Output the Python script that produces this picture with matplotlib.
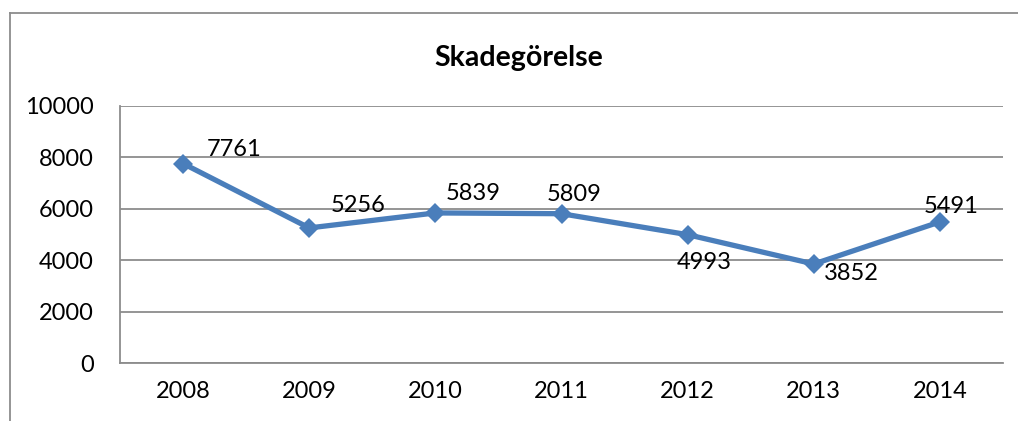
import matplotlib.pyplot as plt
from matplotlib.lines import Line2D

plt.rcParams['font.family'] = ['Lato', 'DejaVu Sans']

# --- data
years = ["2008", "2009", "2010", "2011", "2012", "2013", "2014"]
values = [7761, 5256, 5839, 5809, 4993, 3852, 5491]

# label placement (offset points from each marker)
label_offsets = [(37, 10), (35, 16), (27, 14), (9, 14), (12, -20), (27, -7), (8, 11)]

line_color = "#4A7EBB"
grid_color = "#8C8C8C"

W, H = 1018, 421
fig = plt.figure(figsize=(W / 100, H / 100), dpi=100)
fig.patch.set_facecolor("white")

# chart frame (left and top edges only)
fig.add_artist(Line2D([10 / W, 10 / W], [0, 1 - 13 / H], transform=fig.transFigure,
                      color=grid_color, lw=1.3))
fig.add_artist(Line2D([10 / W, 1], [1 - 13 / H, 1 - 13 / H], transform=fig.transFigure,
                      color=grid_color, lw=1.3))

ax = fig.add_axes([120 / W, 1 - 363 / H, (1003 - 120) / W, (363 - 106) / H])

x = list(range(len(years)))
ax.plot(x, values, color=line_color, lw=3.8, marker="D", markersize=10,
        markeredgewidth=0, zorder=3, solid_joinstyle="miter")

for xi, v, (dx, dy) in zip(x, values, label_offsets):
    ax.annotate(f"{v}", xy=(xi, v), xytext=(dx, dy), textcoords="offset points",
                ha="center", va="center", fontsize=17, color="black", zorder=4)

ax.set_xlim(-0.5, len(years) - 0.5)
ax.set_ylim(0, 10000)
ax.set_yticks(range(0, 10001, 2000))
ax.set_xticks(x)
ax.set_xticklabels(years)

ax.grid(axis="y", color=grid_color, lw=1.3, zorder=1)
ax.set_axisbelow(True)
for side in ["top", "right"]:
    ax.spines[side].set_visible(False)
for side in ["left", "bottom"]:
    ax.spines[side].set_color(grid_color)
    ax.spines[side].set_linewidth(1.3)

ax.tick_params(axis="both", length=0, labelsize=17, colors="black")
ax.tick_params(axis="y", pad=19)
ax.tick_params(axis="x", pad=13)

fig.text(518.5 / W, 1 - 58 / H, "Skadegörelse", ha="center", va="center",
         fontsize=20.5, fontweight="bold")

fig.savefig("out.png", dpi=100, facecolor="white")
